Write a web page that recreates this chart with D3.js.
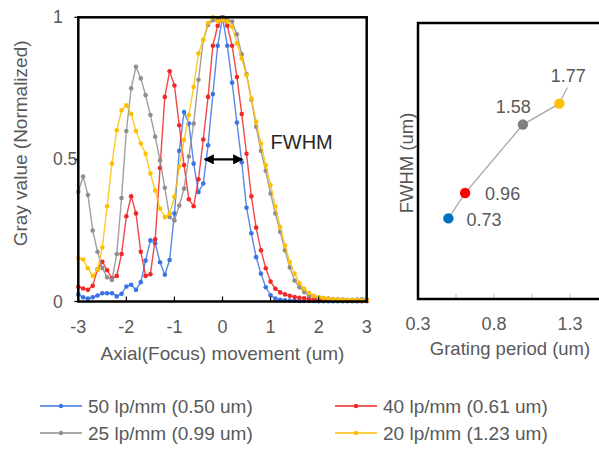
<!DOCTYPE html>
<html>
<head>
<meta charset="utf-8">
<script src="https://cdn.jsdelivr.net/npm/d3@7"></script>
<style>
  body { margin: 0; background: #fff; }
  svg { display: block; font-family: Arial, "Liberation Sans", sans-serif; }
</style>
</head>
<body>
<div id="chart"></div>
<script>
// axial position (um), one sample every 0.1 um
const axialPos = [-3.0, -2.9, -2.8, -2.7, -2.6, -2.5, -2.4, -2.3, -2.2, -2.1,
  -2.0, -1.9, -1.8, -1.7, -1.6, -1.5, -1.4, -1.3, -1.2, -1.1,
  -1.0, -0.9, -0.8, -0.7, -0.6, -0.5, -0.4, -0.3, -0.2, -0.1,
  0.0, 0.1, 0.2, 0.3, 0.4, 0.5, 0.6, 0.7, 0.8, 0.9,
  1.0, 1.1, 1.2, 1.3, 1.4, 1.5, 1.6, 1.7, 1.8, 1.9,
  2.0, 2.1, 2.2, 2.3, 2.4, 2.5, 2.6, 2.7, 2.8, 2.9, 3.0];

// normalized gray value per grating
const gray50lp = [.025, .015, .010, .015, .021, .029, .029, .029, .018, .027,
  .053, .059, .041, .068, .144, .215, .205, .138, .094, .146,
  .31, .53, .667, .626, .485, .385, .415, .55, .73, .9,
  1.0, .9, .77, .63, .49, .33, .24, .156, .098, .05,
  .022, .01, .006, .004, .003, .003, .002, .002, .002, .002,
  .001, .001, .001, .001, .001, .001, .001, .001, .001, .001, .001];
const gray40lp = [.052, .046, .041, .055, .113, .14, .11, .082, .09, .167,
  .30, .37, .31, .175, .09, .096, .219, .47, .72, .81,
  .76, .62, .48, .36, .335, .43, .57, .72, .9, .97,
  1.0, .97, .9, .79, .66, .52, .37, .26, .18, .117,
  .07, .045, .032, .025, .02, .016, .013, .011, .01, .009,
  .008, .007, .006, .005, .004, .004, .003, .003, .002, .002, .002];
const gray25lp = [.386, .44, .375, .25, .175, .118, .085, .076, .167, .364,
  .6, .75, .826, .785, .726, .656, .58, .497, .40, .297,
  .285, .338, .397, .51, .626, .78, .92, .973, .99, .99,
  1.0, .99, .985, .94, .87, .8, .71, .615, .53, .46,
  .38, .31, .245, .18, .12, .074, .05, .033, .021, .018,
  .015, .012, .01, .009, .008, .007, .006, .006, .007, .008, .008];
const gray20lp = [.152, .148, .117, .09, .113, .19, .335, .485, .603, .673,
  .69, .66, .60, .556, .52, .45, .39, .327, .297, .309,
  .368, .474, .568, .656, .755, .873, .92, .98, 1.0, .985,
  .99, .985, .967, .908, .855, .797, .714, .632, .556, .48,
  .41, .333, .262, .197, .139, .098, .065, .045, .03, .02,
  .015, .012, .01, .008, .007, .006, .005, .005, .004, .004, .004];

const seriesNames = ["50 lp/mm (0.50 um)", "40 lp/mm (0.61 um)", "25 lp/mm (0.99 um)", "20 lp/mm (1.23 um)"];

// right panel: FWHM vs grating period
const periodUm = [0.50, 0.61, 0.99, 1.23];
const fwhmUm = [0.73, 0.96, 1.58, 1.77];

const axialTicks = [-3, -2, -1, 0, 1, 2, 3];
const grayTicks = [0, 0.5, 1];
const periodTicks = [0.3, 0.8, 1.3];
const periodMinor = [0.55, 0.8, 1.05, 1.3, 1.55];

// FWHM arrow drawn on the 50 lp/mm curve
const fwhmArrow = [-0.37, 0.41];

const lineColors = ["#3a74e2", "#f02828", "#8f8f8f", "#ffbf00"];
const dotColors = ["#0070c0", "#ff0000", "#7f7f7f", "#ffc000"];
const textColor = "#595959";

const width = 599, height = 454;
const svg = d3.select("#chart").append("svg")
  .attr("width", width).attr("height", height);

// ---------- left panel ----------
const x = d3.scaleLinear().domain([-3, 3]).range([78.3, 366.7]);
const y = d3.scaleLinear().domain([0, 1]).range([301.5, 17.3]);

const left = svg.append("g");
const allSeries = [gray50lp, gray40lp, gray25lp, gray20lp];

const line = d3.line()
  .x((d, i) => x(axialPos[i]))
  .y(d => y(d));

allSeries.forEach((vals, k) => {
  const g = left.append("g");
  g.append("path")
    .datum(vals)
    .attr("fill", "none")
    .attr("stroke", lineColors[k])
    .attr("stroke-width", 1.4)
    .attr("stroke-opacity", 0.85)
    .attr("d", line);
  g.selectAll("circle")
    .data(vals)
    .join("circle")
    .attr("cx", (d, i) => x(axialPos[i]))
    .attr("cy", d => y(d))
    .attr("r", 2.3)
    .attr("fill", lineColors[k]);
});

// frame
left.append("rect")
  .attr("x", x(-3)).attr("y", y(1))
  .attr("width", x(3) - x(-3)).attr("height", y(0) - y(1))
  .attr("fill", "none").attr("stroke", "#000").attr("stroke-width", 2.5);

// x ticks inside
left.selectAll(".xtick")
  .data(axialTicks.slice(1, -1))
  .join("line")
  .attr("x1", d => x(d)).attr("x2", d => x(d))
  .attr("y1", y(0)).attr("y2", y(0) - 5)
  .attr("stroke", "#000").attr("stroke-width", 1.2);

left.selectAll(".xlab")
  .data(axialTicks)
  .join("text")
  .attr("x", d => x(d)).attr("y", 333)
  .attr("text-anchor", "middle")
  .attr("font-size", 18).attr("fill", textColor)
  .text(d => d);

// y ticks outside
left.selectAll(".ytick")
  .data(grayTicks)
  .join("line")
  .attr("x1", x(-3) - 4).attr("x2", x(-3))
  .attr("y1", d => y(d)).attr("y2", d => y(d))
  .attr("stroke", "#000").attr("stroke-width", 1.2);

left.selectAll(".ylab")
  .data(grayTicks)
  .join("text")
  .attr("x", 53).attr("y", d => y(d) + 6)
  .attr("font-size", 17.5).attr("fill", textColor)
  .text(d => d);

left.append("text")
  .attr("transform", "translate(27," + (y(0.5) - 16) + ") rotate(-90)")
  .attr("text-anchor", "middle")
  .attr("font-size", 19).attr("fill", textColor)
  .text("Gray value (Normalized)");

left.append("text")
  .attr("x", (x(-3) + x(3)) / 2).attr("y", 360)
  .attr("text-anchor", "middle")
  .attr("font-size", 19).attr("fill", textColor)
  .text("Axial(Focus) movement (um)");

// FWHM double arrow
const defs = svg.append("defs");
defs.append("marker")
  .attr("id", "head")
  .attr("viewBox", "0 0 10 10")
  .attr("refX", 9).attr("refY", 5)
  .attr("markerWidth", 4.2).attr("markerHeight", 4.2)
  .attr("markerUnits", "strokeWidth")
  .attr("orient", "auto-start-reverse")
  .append("path").attr("d", "M0,0 L10,5 L0,10 Z").attr("fill", "#000");

left.append("line")
  .attr("x1", x(fwhmArrow[0])).attr("x2", x(fwhmArrow[1]))
  .attr("y1", y(0.5)).attr("y2", y(0.5))
  .attr("stroke", "#000").attr("stroke-width", 2.4)
  .attr("marker-start", "url(#head)").attr("marker-end", "url(#head)");

left.append("text")
  .attr("x", x(1.0)).attr("y", y(0.535))
  .attr("font-size", 20).attr("fill", "#262626")
  .text("FWHM");

// ---------- right panel ----------
const x2 = d3.scaleLinear().domain([0.3, 1.8]).range([418, 646]);
const y2 = d3.scaleLinear().domain([0, 2.5]).range([299, 23]);
const right = svg.append("g");

right.selectAll(".minor")
  .data(periodMinor)
  .join("line")
  .attr("x1", d => x2(d)).attr("x2", d => x2(d))
  .attr("y1", y2(0)).attr("y2", y2(0) - 5)
  .attr("stroke", "#bfbfbf").attr("stroke-width", 1);

right.append("rect")
  .attr("x", x2(0.3)).attr("y", y2(2.5))
  .attr("width", x2(1.8) - x2(0.3)).attr("height", y2(0) - y2(2.5))
  .attr("fill", "none").attr("stroke", "#000").attr("stroke-width", 2.5);

const pts = periodUm.map((p, i) => [p, fwhmUm[i]]);
right.append("path")
  .datum(pts)
  .attr("fill", "none").attr("stroke", "#a6a6a6").attr("stroke-width", 1.3)
  .attr("d", d3.line().x(d => x2(d[0])).y(d => y2(d[1])));

// leader line to the last label
right.append("line")
  .attr("x1", x2(periodUm[3])).attr("y1", y2(fwhmUm[3]))
  .attr("x2", x2(periodUm[3]) + 8).attr("y2", y2(fwhmUm[3]) - 16)
  .attr("stroke", "#a6a6a6").attr("stroke-width", 1.2);

right.selectAll("circle")
  .data(pts)
  .join("circle")
  .attr("cx", d => x2(d[0])).attr("cy", d => y2(d[1]))
  .attr("r", 5.2)
  .attr("fill", (d, i) => dotColors[i]);

// data labels
const labelPos = [
  { dx: 18, dy: 8, anchor: "start" },
  { dx: 20, dy: 7, anchor: "start" },
  { dx: 8, dy: -12, anchor: "end" },
  { dx: 9, dy: -22, anchor: "middle" }
];
right.selectAll(".dlab")
  .data(pts)
  .join("text")
  .attr("x", (d, i) => x2(d[0]) + labelPos[i].dx)
  .attr("y", (d, i) => y2(d[1]) + labelPos[i].dy)
  .attr("text-anchor", (d, i) => labelPos[i].anchor)
  .attr("font-size", 18).attr("fill", textColor)
  .text(d => d[1].toFixed(2));

right.selectAll(".plab")
  .data(periodTicks)
  .join("text")
  .attr("x", d => x2(d)).attr("y", 330)
  .attr("text-anchor", "middle")
  .attr("font-size", 18).attr("fill", textColor)
  .text(d => d.toFixed(1));

right.append("text")
  .attr("transform", "translate(413," + (y2(1.25) + 2) + ") rotate(-90)")
  .attr("text-anchor", "middle")
  .attr("font-size", 18.5).attr("fill", textColor)
  .text("FWHM (um)");

right.append("text")
  .attr("x", 510).attr("y", 355)
  .attr("text-anchor", "middle")
  .attr("font-size", 18.5).attr("fill", textColor)
  .text("Grating period (um)");

// ---------- legend ----------
const legendPos = [[40, 406], [335, 406], [40, 433], [335, 433]];
const legend = svg.append("g");
seriesNames.forEach((name, k) => {
  const [lx, ly] = legendPos[k];
  const g = legend.append("g").attr("transform", "translate(" + lx + "," + ly + ")");
  g.append("line").attr("x1", 0).attr("x2", 42).attr("y1", 0).attr("y2", 0)
    .attr("stroke", lineColors[k]).attr("stroke-width", 1.4);
  g.append("circle").attr("cx", 21).attr("cy", 0).attr("r", 2.2).attr("fill", lineColors[k]);
  g.append("text").attr("x", 48).attr("y", 6.5)
    .attr("font-size", 19).attr("fill", textColor)
    .text(name);
});
</script>
</body>
</html>
